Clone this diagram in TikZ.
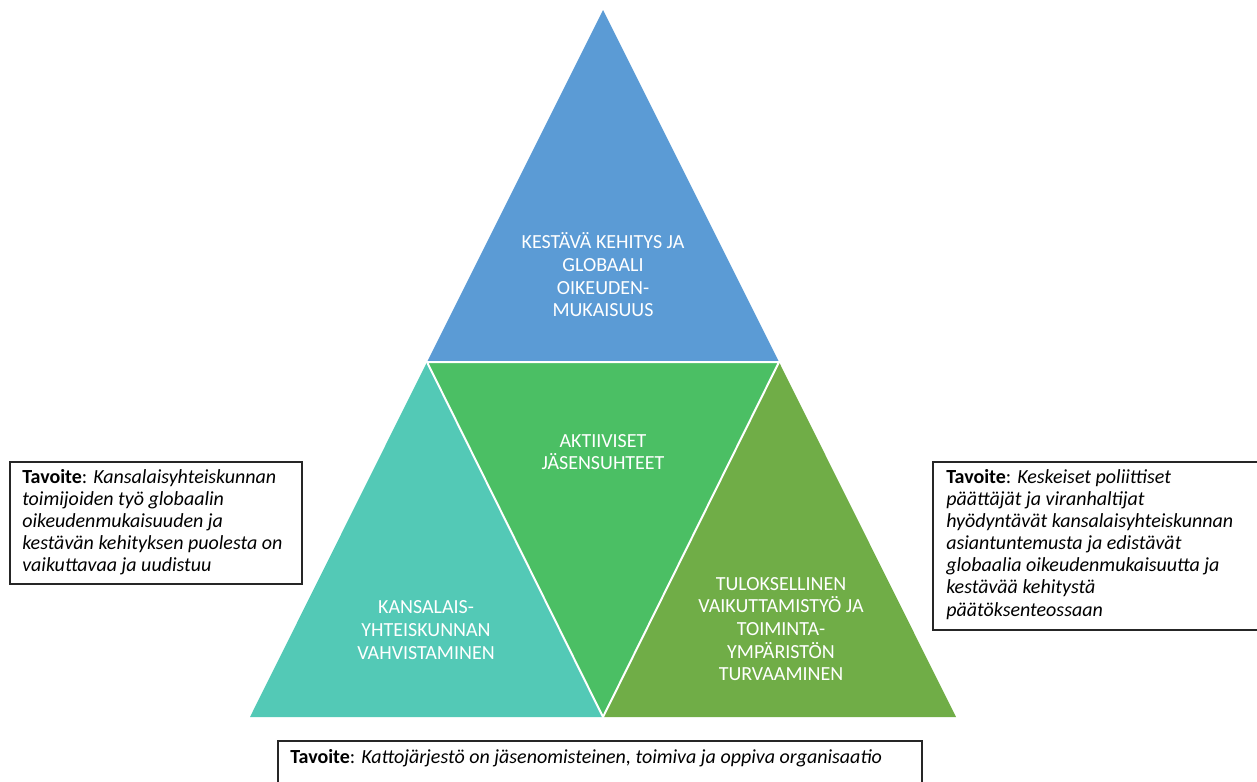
\documentclass[tikz,border=0pt]{standalone}
\usepackage{fontspec}
\setmainfont{Carlito}
\definecolor{cblue}{HTML}{5B9BD5}
\definecolor{cgreen}{HTML}{4BBF64}
\definecolor{cteal}{HTML}{53C9B6}
\definecolor{colive}{HTML}{70AD47}
\begin{document}
\begin{tikzpicture}[x=0.75pt,y=-0.75pt,
  tri/.style={draw=white,line width=1.5pt,line join=miter},
  tlabel/.style={text=white,align=center,font=\fontsize{15}{17}\selectfont,inner sep=0pt},
  goal/.style={draw=black!85,line width=0.9pt},
  goaltext/.style={align=left,anchor=north west,inner sep=0pt,font=\fontsize{15}{16.6}\selectfont}]
\useasboundingbox (0,0) rectangle (1257,782);
\coordinate (A) at (603,10);
\coordinate (L) at (427,362);
\coordinate (R) at (779,362);
\coordinate (BL) at (250,717);
\coordinate (BM) at (603,717);
\coordinate (BR) at (956,717);
% triangles
\fill[cblue] (A) -- (R) -- (L) -- cycle;
\fill[cteal] (L) -- (BM) -- (BL) -- cycle;
\fill[cgreen] (L) -- (R) -- (BM) -- cycle;
\fill[colive] (R) -- (BR) -- (BM) -- cycle;
\draw[tri] (L) -- (R) -- (BM) -- cycle;
% labels
\node[tlabel] (top) at (603,275) {KESTÄVÄ KEHITYS JA\\GLOBAALI\\OIKEUDEN-\\MUKAISUUS};
\node[tlabel] (mid) at (603,452) {AKTIIVISET\\JÄSENSUHTEET};
\node[tlabel] (left) at (426,630) {KANSALAIS-\\YHTEISKUNNAN\\VAHVISTAMINEN};
\node[tlabel] (right) at (781,629) {TULOKSELLINEN\\VAIKUTTAMISTYÖ JA\\TOIMINTA-\\YMPÄRISTÖN\\TURVAAMINEN};
% goal boxes
\begin{scope}
\clip (0,0) rectangle (1257,782);
\draw[goal] (10,462) rectangle (302,584);
\draw[goal] (933,462) rectangle (1270,630);
\draw[goal] (278,741) rectangle (922,800);
\end{scope}
\node[goaltext] (g1) at (22,469) {\textbf{Tavoite}: \textit{Kansalaisyhteiskunnan}\\\textit{toimijoiden työ globaalin}\\\textit{oikeudenmukaisuuden ja}\\\textit{kestävän kehityksen puolesta on}\\\textit{vaikuttavaa ja uudistuu}};
\node[goaltext] (g2) at (946,469) {\textbf{Tavoite}: \textit{Keskeiset poliittiset}\\\textit{päättäjät ja viranhaltijat}\\\textit{hyödyntävät kansalaisyhteiskunnan}\\\textit{asiantuntemusta ja edistävät}\\\textit{globaalia oikeudenmukaisuutta ja}\\\textit{kestävää kehitystä}\\\textit{päätöksenteossaan}};
\node[goaltext] (g3) at (290,749) {\textbf{Tavoite}: \textit{Kattojärjestö on jäsenomisteinen, toimiva ja oppiva organisaatio}};
\end{tikzpicture}
\end{document}
